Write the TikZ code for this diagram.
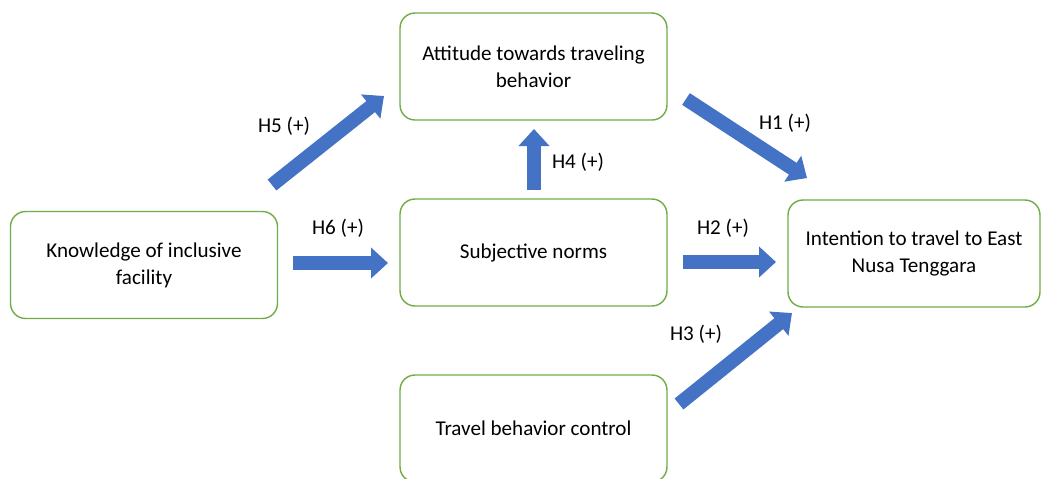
\documentclass[tikz,border=0pt]{standalone}
\usepackage{fontspec}
\setmainfont{Carlito}
\usepackage{tikz}
\usetikzlibrary{arrows.meta}

\definecolor{boxgreen}{RGB}{112,173,71}
\definecolor{arrowblue}{RGB}{68,114,196}

\begin{document}
\begin{tikzpicture}[x=0.02cm,y=-0.02cm,
  font=\fontsize{12}{15.3}\selectfont,
  construct/.style={draw=boxgreen,line width=0.8pt,rounded corners=0.3cm,fill=white,
    minimum width=5.34cm,minimum height=2.14cm,align=center},
  blockarrow/.style={arrowblue,line width=0.28cm,
    -{Triangle[width=0.6cm,length=0.34cm]}},
  hyp/.style={font=\fontsize{12}{14}\selectfont}]
 \clip (0,0) rectangle (1045,478);
 % ---- constructs
 \node[construct] (attitude) at (533.5,66.5) {Attitude towards traveling\\ behavior};
 \node[construct] (knowledge) at (144,265) {Knowledge of inclusive\\ facility};
 \node[construct] (norms) at (533.5,252.5) {Subjective norms};
 \node[construct,minimum width=5.04cm] (intention) at (914,253.5) {Intention to travel to East\\ Nusa Tenggara};
 \node[construct] (control) at (533.5,428.5) {Travel behavior control};
 % ---- arrow ends
 \coordinate (h5a) at (272,185); \coordinate (h5b) at (384,96);
 \coordinate (h1a) at (686,99);  \coordinate (h1b) at (807,178);
 \coordinate (h6a) at (293,263); \coordinate (h6b) at (388,263);
 \coordinate (h4a) at (534,190); \coordinate (h4b) at (534,129);
 \coordinate (h2a) at (683,262); \coordinate (h2b) at (776,262);
 \coordinate (h3a) at (679,404); \coordinate (h3b) at (792,313);
 % ---- hypotheses
 \draw[blockarrow] (h5a) -- (h5b);
 \draw[blockarrow] (h1a) -- (h1b);
 \draw[blockarrow] (h6a) -- (h6b);
 \draw[blockarrow] (h4a) -- (h4b);
 \draw[blockarrow] (h2a) -- (h2b);
 \draw[blockarrow] (h3a) -- (h3b);
 \node[hyp] (l5) at (284,126) {H5 (+)};
 \node[hyp] (l1) at (785,123) {H1 (+)};
 \node[hyp] (l6) at (338,228) {H6 (+)};
 \node[hyp] (l4) at (578,162) {H4 (+)};
 \node[hyp] (l2) at (723,228) {H2 (+)};
 \node[hyp] (l3) at (696,334) {H3 (+)};
\end{tikzpicture}
\end{document}
